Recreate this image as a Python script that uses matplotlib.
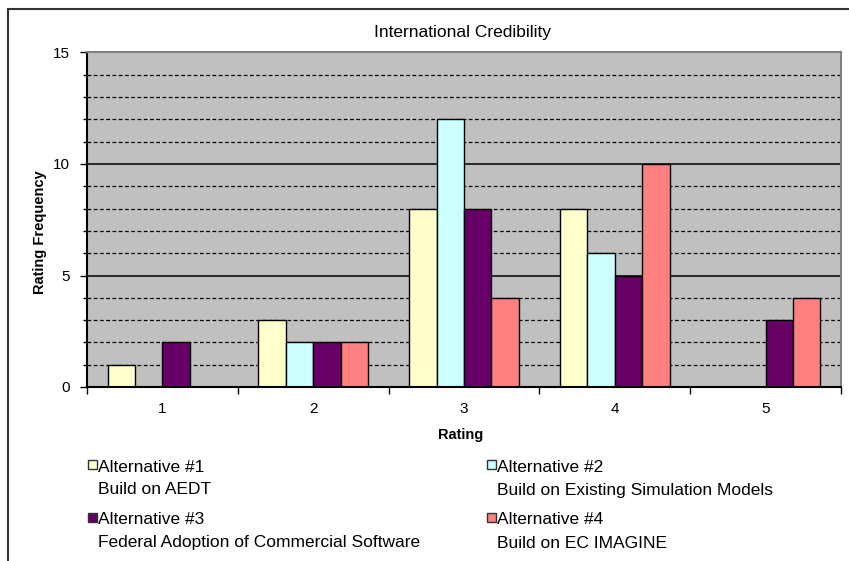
import numpy as np
import matplotlib
matplotlib.use("Agg")
import matplotlib.pyplot as plt
from matplotlib.patches import Rectangle
from matplotlib.lines import Line2D
from matplotlib.ticker import MultipleLocator, FixedLocator

plt.rcParams['font.family'] = ['Liberation Sans', 'DejaVu Sans']

ratings = [1, 2, 3, 4, 5]
alt1 = [1, 3, 8, 8, 0]
alt2 = [0, 2, 12, 6, 0]
alt3 = [2, 2, 8, 5, 3]
alt4 = [0, 2, 4, 10, 4]
series = [alt1, alt2, alt3, alt4]
names = ["Alternative #1", "Alternative #2", "Alternative #3", "Alternative #4"]
descs = ["Build on AEDT", "Build on Existing Simulation Models",
         "Federal Adoption of Commercial Software", "Build on EC IMAGINE"]
colors = ["#FFFFCC", "#CCFFFF", "#660066", "#FF8080"]

W, H = 849, 561
fig = plt.figure(figsize=(W / 100, H / 100), dpi=100)

def fx(px):
    return px / W

def fy(py):
    return 1 - py / H

# plot area in pixel coordinates
left, right, top, bottom = 87, 841, 52.5, 387
ax = fig.add_axes([fx(left), fy(bottom), fx(right - left), (bottom - top) / H])
ax.set_facecolor("#C0C0C0")

# outer chart frame (cut at right and bottom edges)
fig.add_artist(Line2D([fx(8), 1.0], [fy(9), fy(9)], color="#333333", lw=1.5))
fig.add_artist(Line2D([fx(8), fx(8)], [fy(9), 0.0], color="#333333", lw=1.5))

x = np.array(ratings, dtype=float)
w = 1 / 5.5
for i, (vals, c) in enumerate(zip(series, colors)):
    ax.bar(x + (i - 1.5) * w, vals, width=w, color=c, edgecolor="black",
           linewidth=1.0, zorder=3)

ax.set_xlim(0.5, 5.5)
ax.set_ylim(0, 15)

# gridlines: dashed every unit, solid at major ticks
for v in range(1, 15):
    if v % 5 == 0:
        ax.axhline(v, color="black", lw=1.1, zorder=1)
    else:
        ax.axhline(v, color="black", lw=0.9, ls=(0, (3, 2)), zorder=1)

ax.yaxis.set_major_locator(MultipleLocator(5))
ax.yaxis.set_minor_locator(MultipleLocator(1))
ax.tick_params(axis="y", which="major", length=5, width=1, pad=7,
               labelsize=11, direction="out")
ax.tick_params(axis="y", which="minor", length=3, width=1, direction="out")

ax.xaxis.set_major_locator(FixedLocator([0.5, 1.5, 2.5, 3.5, 4.5, 5.5]))
ax.xaxis.set_minor_locator(FixedLocator(ratings))
ax.set_xticklabels([])
ax.set_xticklabels([str(r) for r in ratings], minor=True)
ax.tick_params(axis="x", which="major", length=5, width=1, direction="out")
ax.tick_params(axis="x", which="minor", length=0, pad=11, labelsize=11)

for s in ["left", "bottom"]:
    ax.spines[s].set_color("black")
    ax.spines[s].set_linewidth(1.5)
for s in ["top", "right"]:
    ax.spines[s].set_color("#808080")
    ax.spines[s].set_linewidth(1.5)
ax.spines["bottom"].set_zorder(4)

fig.text(fx(463), fy(32), "International Credibility", ha="center",
         va="center", fontsize=12.5)
fig.text(fx(40), fy(232), "Rating Frequency", ha="center", va="center",
         rotation=90, fontsize=10.5, fontweight="bold")
fig.text(fx(461), fy(435), "Rating", ha="center", va="center",
         fontsize=10.5, fontweight="bold")

# legend, two columns
slots = [(88, 460), (487, 460), (88, 513), (487, 513)]
for (mx, my), name, desc, c in zip(slots, names, descs, colors):
    fig.add_artist(Rectangle((fx(mx), fy(my + 9)), fx(9), 9 / H,
                             facecolor=c, edgecolor="#333333", lw=1.0))
    fig.text(fx(mx + 10), fy(my + 7), name, ha="left", va="center",
             fontsize=12.5)
    fig.text(fx(mx + 10), fy(my + 30), desc, ha="left", va="center",
             fontsize=12.5)

fig.savefig("out.png", dpi=100)
